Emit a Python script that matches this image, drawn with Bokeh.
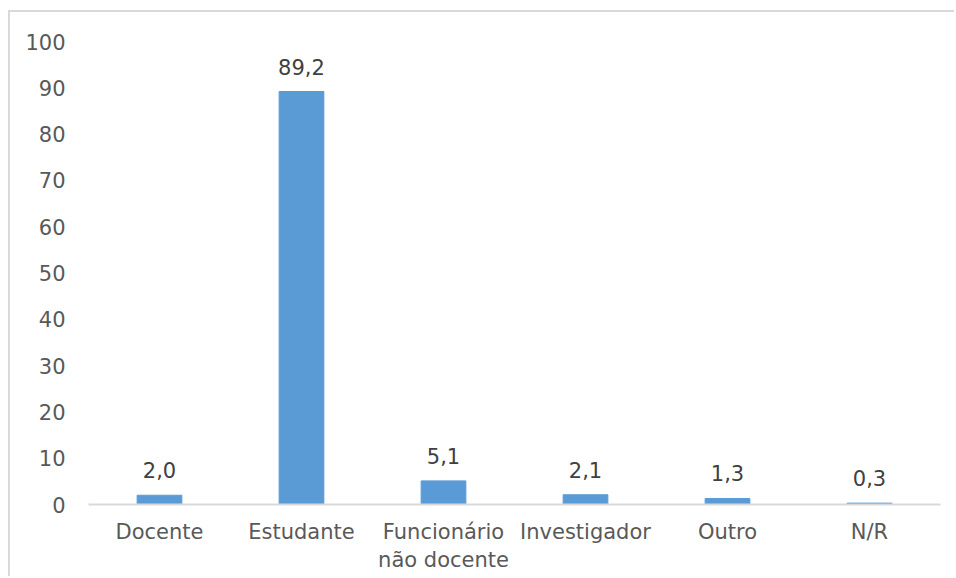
from bokeh.plotting import figure
from bokeh.models import ColumnDataSource, LabelSet
from bokeh.core.properties import value
from bokeh.embed import file_html
from bokeh.resources import INLINE

categories = ["Docente", "Estudante", "Funcionário\nnão docente", "Investigador", "Outro", "N/R"]
values = [2.0, 89.2, 5.1, 2.1, 1.3, 0.3]
labels = ["2,0", "89,2", "5,1", "2,1", "1,3", "0,3"]
y_ticks = [0, 10, 20, 30, 40, 50, 60, 70, 80, 90, 100]

FONT = "DejaVu Sans"

src = ColumnDataSource(dict(cat=categories, val=values, lab=labels))

p = figure(
    x_range=categories, y_range=(0, 100),
    width=946, height=566,
    output_backend="svg", toolbar_location=None,
    min_border_left=78, min_border_right=16, min_border_top=29, min_border_bottom=74,
)
p.styles = {"border-left": "2px solid #d9d9d9", "border-top": "2px solid #d9d9d9",
            "margin-left": "8px", "margin-top": "10px"}

p.vbar(x="cat", top="val", width=0.315, source=src, color="#5B9BD5")

lbl = LabelSet(x="cat", y="val", text="lab", source=src, text_align="center",
               text_baseline="bottom", y_offset=17, text_font=value(FONT),
               text_font_size="21px", text_color="#404040")
p.add_layout(lbl)

p.xgrid.visible = False
p.ygrid.visible = False
p.outline_line_color = None

p.yaxis.ticker = y_ticks
p.yaxis.axis_line_color = None
p.yaxis.major_tick_line_color = None
p.yaxis.minor_tick_line_color = None
p.yaxis.major_label_text_font = FONT
p.yaxis.major_label_text_font_size = "21px"
p.yaxis.major_label_text_color = "#595959"
p.yaxis.major_label_standoff = 17

p.xaxis.axis_line_color = "#D9D9D9"
p.xaxis.axis_line_width = 2
p.xaxis.major_tick_line_color = None
p.xaxis.minor_tick_line_color = None
p.xaxis.major_label_text_font = FONT
p.xaxis.major_label_text_font_size = "21px"
p.xaxis.major_label_text_color = "#595959"
p.xaxis.major_label_standoff = 9

open("out.html", "w").write(file_html(p, INLINE))
